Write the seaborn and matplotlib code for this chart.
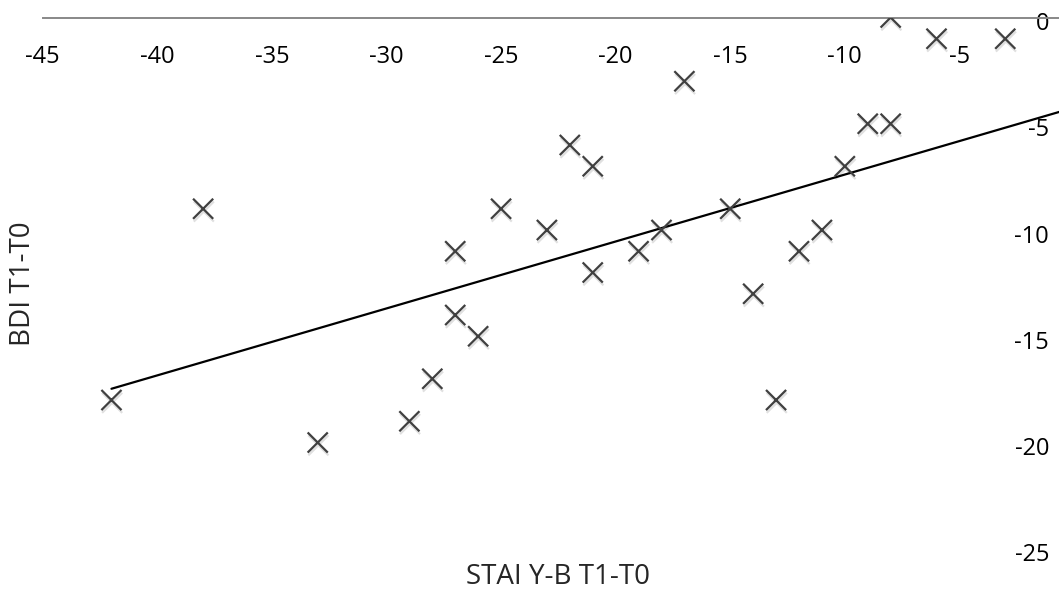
import pandas as pd
import matplotlib
matplotlib.use("Agg")
import matplotlib.pyplot as plt
import matplotlib.patheffects as pe
import matplotlib.transforms as mtransforms
import seaborn as sns

# STAI Y-B (T1-T0) vs BDI (T1-T0)
stai = [-8, -6, -3, -17, -9, -8, -10, -15, -11, -12, -14, -13, -22, -21,
        -25, -23, -27, -21, -19, -18, -27, -26, -28, -29, -33, -38, -42]
bdi = [0, -1, -1, -3, -5, -5, -7, -9, -10, -11, -13, -18, -6, -7,
       -9, -10, -11, -12, -11, -10, -14, -15, -17, -19, -20, -9, -18]

# excel linear trendline as drawn in the chart (start / end)
trend_x = [-42, 0]
trend_y = [-17.47, -4.24]

x_ticks = [-45, -40, -35, -30, -25, -20, -15, -10, -5]
y_ticks = [0, -5, -10, -15, -20, -25]

df = pd.DataFrame({"STAI": stai, "BDI": bdi})
trend = pd.DataFrame({"x": trend_x, "y": trend_y})

sns.set_style("white")
plt.rcParams["font.family"] = ["Open Sans", "DejaVu Sans"]

fig = plt.figure(figsize=(10.59, 5.95), dpi=100)
# axes goes a little past the right edge, like the cropped excel chart
ax = fig.add_axes([42.7 / 1059, 1 - 548.8 / 595, (1074 - 42.7) / 1059, (548.8 - 17.5) / 595])

sns.scatterplot(data=df, x="STAI", y="BDI", marker="x", s=210, color="#404040",
                linewidth=1.6, ax=ax, zorder=3,
                path_effects=[pe.SimpleLineShadow(offset=(0.5, -2), alpha=0.12, shadow_color="black"),
                              pe.Normal()])

sns.lineplot(data=trend, x="x", y="y", color="black", lw=1.6, ax=ax, zorder=2)

ax.set_xlim(-45, 0)
ax.set_ylim(-25, 0)
ax.set_xticks(x_ticks)
ax.set_yticks(y_ticks)
ax.set_xticklabels([str(v) for v in x_ticks])
ax.set_yticklabels([str(v) for v in y_ticks])

for s in ["top", "right"]:
    ax.spines[s].set_visible(False)
ax.spines["bottom"].set_position(("data", 0))
ax.spines["bottom"].set_color("#888888")
ax.spines["bottom"].set_linewidth(1.4)
ax.spines["left"].set_position(("data", 0))
ax.spines["left"].set_color("#888888")
ax.spines["left"].set_linewidth(1.4)

ax.tick_params(axis="x", direction="out", length=5, width=1.2, color="#888888",
               labelsize=17, pad=15, labelcolor="black")
ax.tick_params(axis="y", length=0, labelsize=17, pad=18, labelcolor="black")

# excel puts the value labels a touch below the gridline position
shift = mtransforms.ScaledTranslation(0, -3.5 / 100, fig.dpi_scale_trans)
for lbl in ax.get_yticklabels():
    lbl.set_transform(lbl.get_transform() + shift)

ax.set_xlabel("")
ax.set_ylabel("")
ax.set_facecolor("white")

fig.text(558 / 1059, 1 - 577 / 595, "STAI Y-B T1-T0", ha="center", va="center", fontsize=20)
fig.text(23 / 1059, 1 - 284 / 595, "BDI T1-T0", ha="center", va="center", rotation=90, fontsize=20)

fig.savefig("out.png", dpi=100)
